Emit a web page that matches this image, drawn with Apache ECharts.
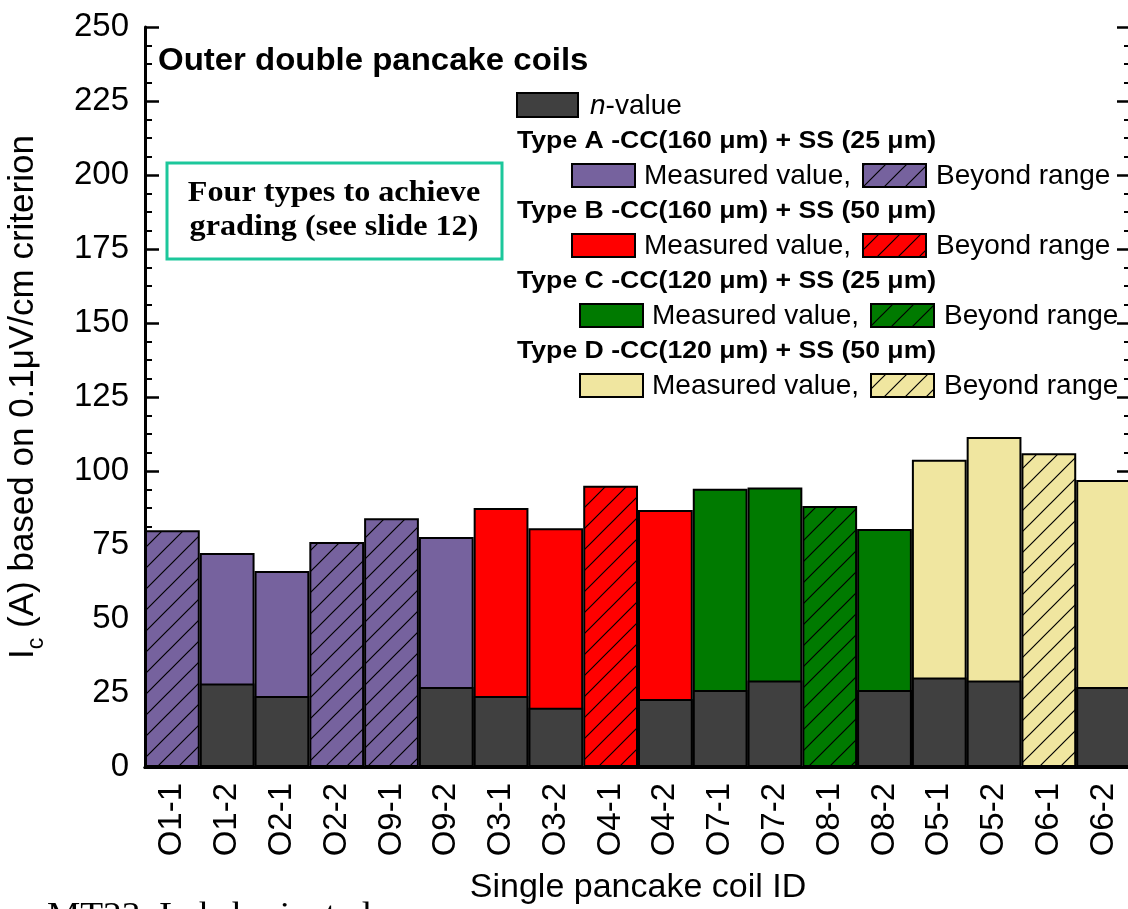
<!DOCTYPE html>
<html>
<head>
<meta charset="utf-8">
<title>Outer double pancake coils</title>
<script src="https://cdn.jsdelivr.net/npm/echarts@6/dist/echarts.min.js"></script>
<style>
  html, body { margin: 0; padding: 0; background: #fff; }
  #chart { width: 1128px; height: 909px; }
</style>
</head>
<body>
<div id="chart"></div>
<script>
// single pancake coils, in the order they appear on the x axis
const categories = ['O1-1', 'O1-2', 'O2-1', 'O2-2', 'O9-1', 'O9-2', 'O3-1', 'O3-2', 'O4-1',
  'O4-2', 'O7-1', 'O7-2', 'O8-1', 'O8-2', 'O5-1', 'O5-2', 'O6-1', 'O6-2'];
// Ic (A) at 0.1 uV/cm
const icValues = [80, 72.3, 66.2, 76, 84, 77.7, 87.5, 80.7, 95, 86.8, 94, 94.4, 88.2, 80.4, 103.8, 111.5, 106, 97];
// n-value (none where Ic was beyond range)
const nValues = [null, 28.2, 24, null, null, 27, 24, 20, null, 23, 26, 29.2, null, 26, 30.2, 29.2, null, 27];
const coilTypes = ['A', 'A', 'A', 'A', 'A', 'A', 'B', 'B', 'B', 'B', 'C', 'C', 'C', 'C', 'D', 'D', 'D', 'D'];
const beyondRange = [true, false, false, true, true, false, false, false, true, false, false, false, true, false, false, false, true, false];

const typeNames = ['A', 'B', 'C', 'D'];
const typeLabels = [
  'Type A -CC(160 μm) + SS (25 μm)',
  'Type B -CC(160 μm) + SS (50 μm)',
  'Type C -CC(120 μm) + SS (25 μm)',
  'Type D -CC(120 μm) + SS (50 μm)',
];

const typeColors = { A: '#76629E', B: '#FF0000', C: '#007A00', D: '#F0E6A0' };
const nColor = '#404040';
const sans = 'Arial, "Liberation Sans", sans-serif';
const serif = '"Times New Roman", "Liberation Serif", serif';

// diagonal hatch on top of the type colour
function hatch(color) {
  const s = 21;
  const c = document.createElement('canvas');
  c.width = s;
  c.height = s;
  const ctx = c.getContext('2d');
  ctx.fillStyle = color;
  ctx.fillRect(0, 0, s, s);
  ctx.strokeStyle = '#000';
  ctx.lineWidth = 1.2;
  ctx.beginPath();
  ctx.moveTo(-3, s + 3); ctx.lineTo(s + 3, -3);
  ctx.moveTo(-3, 3); ctx.lineTo(3, -3);
  ctx.moveTo(s - 3, s + 3); ctx.lineTo(s + 3, s - 3);
  ctx.stroke();
  return { image: c, repeat: 'repeat' };
}
const hatchFills = {};
typeNames.forEach((t) => { hatchFills[t] = hatch(typeColors[t]); });

const icData = icValues.map((v, i) => ({
  value: v,
  itemStyle: { color: beyondRange[i] ? hatchFills[coilTypes[i]] : typeColors[coilTypes[i]] },
}));

// legend, drawn by hand like the original
const legend = [];
legend.push({ type: 'rect', shape: { x: 517, y: 93, width: 61, height: 24 },
  style: { fill: nColor, stroke: '#000', lineWidth: 2 } });
legend.push({ type: 'text', x: 590, y: 106, style: {
  text: '{i|n}-value', fontSize: 28, fontFamily: sans, fill: '#000', verticalAlign: 'middle',
  rich: { i: { fontStyle: 'italic', fontSize: 28, fontFamily: sans } } } });

const rowTop = [141, 211, 281, 351];
typeNames.forEach((t, k) => {
  const y = rowTop[k];
  const dx = k < 2 ? 0 : 8;
  legend.push({ type: 'text', x: 517, y: y, scaleX: 1.11, style: {
    text: typeLabels[k], fontSize: 24, fontWeight: 'bold', fontFamily: sans, fill: '#000', verticalAlign: 'middle' } });
  legend.push({ type: 'rect', shape: { x: 572 + dx, y: y + 23, width: 63, height: 23 },
    style: { fill: typeColors[t], stroke: '#000', lineWidth: 2 } });
  legend.push({ type: 'text', x: 644 + dx, y: y + 35, style: {
    text: 'Measured value,', fontSize: 28, fontFamily: sans, fill: '#000', verticalAlign: 'middle' } });
  legend.push({ type: 'rect', shape: { x: 863 + dx, y: y + 23, width: 63, height: 23 },
    style: { fill: hatchFills[t], stroke: '#000', lineWidth: 2 } });
  legend.push({ type: 'text', x: 936 + dx, y: y + 35, style: {
    text: 'Beyond range', fontSize: 28, fontFamily: sans, fill: '#000', verticalAlign: 'middle' } });
});

const chart = echarts.init(document.getElementById('chart'), null, { renderer: 'canvas' });

const yCommon = {
  type: 'value',
  min: 0,
  max: 250,
  interval: 25,
  axisLine: { show: true, lineStyle: { color: '#000', width: 3 } },
  axisTick: { show: true, inside: true, length: 14, lineStyle: { color: '#000', width: 2.5 } },
  minorTick: { show: true, splitNumber: 4, length: 7, lineStyle: { color: '#000', width: 2 } },
  splitLine: { show: false },
};

chart.setOption({
  backgroundColor: '#fff',
  animation: false,
  grid: { left: 145, right: -3, top: 27, bottom: 142, outerBoundsMode: 'none', containLabel: false },
  xAxis: [
    {
      type: 'category',
      data: categories,
      position: 'bottom',
      axisLine: { lineStyle: { color: '#000', width: 3 } },
      axisTick: { show: true, inside: true, length: 5, alignWithLabel: true, lineStyle: { color: '#000', width: 1 } },
      axisLabel: { rotate: 90, interval: 0, fontSize: 33, color: '#000', fontFamily: sans, margin: 16 },
      name: 'Single pancake coil ID',
      nameLocation: 'middle',
      nameGap: 104,
      nameTextStyle: { fontSize: 34, color: '#000', fontFamily: sans },
    },
    {
      type: 'category',
      data: categories,
      position: 'top',
      axisLine: { lineStyle: { color: '#000', width: 3 } },
      axisTick: { show: false },
      axisLabel: { show: false },
    },
  ],
  yAxis: [
    Object.assign({}, yCommon, {
      position: 'left',
      axisLabel: { fontSize: 33, color: '#000', fontFamily: sans, margin: 16 },
      name: '{m|I}{s|c}{m| (A) based on 0.1μV/cm criterion}',
      nameLocation: 'middle',
      nameRotate: 90,
      nameGap: 97,
      nameTextStyle: {
        color: '#000',
        fontFamily: sans,
        fontSize: 35,
        rich: {
          m: { fontSize: 35, fontFamily: sans, color: '#000' },
          s: { fontSize: 23, fontFamily: sans, color: '#000', verticalAlign: 'bottom', lineHeight: 50 },
        },
      },
    }),
    Object.assign({}, yCommon, {
      position: 'right',
      axisLabel: { show: false },
    }),
  ],
  series: [
    {
      name: 'Ic',
      type: 'bar',
      data: icData,
      barGap: '-100%',
      barCategoryGap: 0,
      itemStyle: { borderColor: '#000', borderWidth: 2 },
    },
    {
      name: 'n-value',
      type: 'bar',
      data: nValues,
      barGap: '-100%',
      barCategoryGap: 0,
      itemStyle: { color: nColor, borderColor: '#000', borderWidth: 2 },
    },
  ],
  graphic: [
    { type: 'text', x: 158, y: 61, scaleX: 1.03, style: {
      text: 'Outer double pancake coils', fontSize: 32, fontWeight: 'bold', fontFamily: sans,
      fill: '#000', verticalAlign: 'middle' } },
    { type: 'rect', shape: { x: 167, y: 163, width: 335, height: 96 },
      style: { fill: '#fff', stroke: '#1CC79B', lineWidth: 3 } },
    { type: 'text', x: 334, y: 194, scaleX: 1.11, style: {
      text: 'Four types to achieve', fontSize: 29, fontWeight: 'bold', fontFamily: serif,
      fill: '#000', align: 'center', verticalAlign: 'middle' } },
    { type: 'text', x: 334, y: 228, scaleX: 1.11, style: {
      text: 'grading (see slide 12)', fontSize: 29, fontWeight: 'bold', fontFamily: serif,
      fill: '#000', align: 'center', verticalAlign: 'middle' } },
    { type: 'text', x: 47, y: 916, scaleX: 1.1, style: {
      text: 'MT23, Lakshmi, et al.', fontSize: 34, fontFamily: serif, fill: '#000', verticalAlign: 'middle' } },
  ].concat(legend),
});

window.addEventListener('resize', () => chart.resize());
</script>
</body>
</html>
